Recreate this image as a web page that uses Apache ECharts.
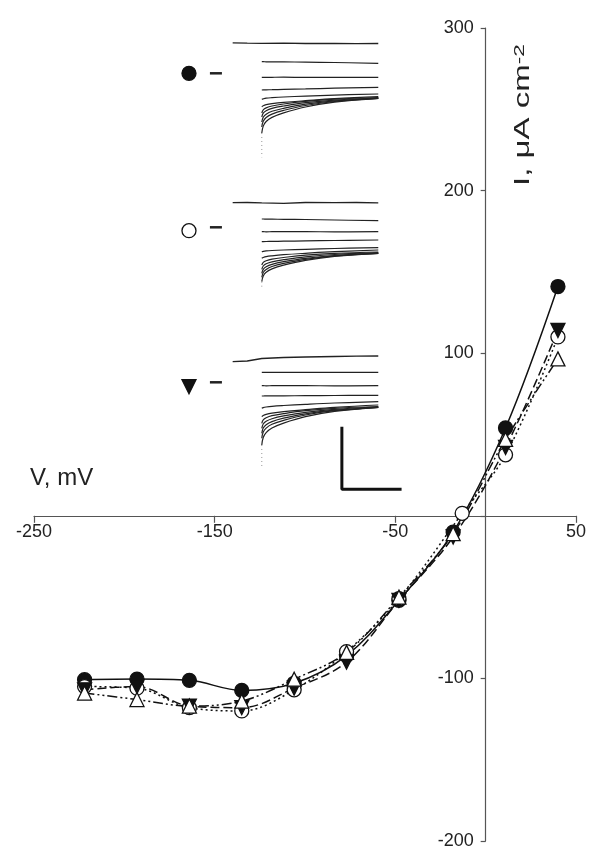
<!DOCTYPE html>
<html><head><meta charset="utf-8">
<script src="https://cdn.jsdelivr.net/npm/echarts@6/dist/echarts.min.js"></script>
<style>html,body{margin:0;padding:0;background:#fff}#c{width:600px;height:857px}</style>
</head><body><div id="c"></div>
<script>
// ---- main I-V data (V in mV, I in uA cm-2) ----
const vFilled = [-222, -193, -164, -135, -106, -77, -48, -18, 11, 40];
const iFilled = [-100.8, -100.4, -101.2, -107.4, -103, -86, -52, -10, 54, 141];
const vOpen   = [-222, -193, -164, -135, -106, -77, -48, -13, 11, 40];
const iOpen   = [-105, -106, -118, -120, -107, -83.5, -51, 1.5, 37.5, 110];
const vDown   = [-222, -193, -164, -135, -106, -77, -48, -18, 11, 40];
const iDown   = [-107, -105, -117, -118, -106, -90, -52, -13, 42, 114];
const vUp     = [-222, -193, -164, -135, -106, -77, -48, -18, 11, 40];
const iUp     = [-109, -113, -117, -114, -100.5, -84, -50, -11, 47, 96.5];

const xRange = [-250, 50];
const yRange = [-200, 300];
const tickStep = 100;

// ---- inset current traces (time in ms, current in arbitrary units) ----
const holdT  = [0, 10, 20, 35, 50, 70, 85, 100];
const traceT = [20, 21, 23, 27, 35, 50, 70, 100];

const holdA = [0.05, 0.02, 0.0, 0.02, -0.02, 0.0, -0.04, -0.02];
const stepsA = [
  [-1.84,-1.84,-1.85,-1.85,-1.86,-1.88,-1.92,-2.00],
  [-3.40,-3.40,-3.41,-3.40,-3.39,-3.41,-3.40,-3.40],
  [-4.67,-4.66,-4.65,-4.64,-4.61,-4.56,-4.49,-4.40],
  [-5.60,-5.55,-5.49,-5.44,-5.37,-5.28,-5.18,-5.07],
  [-6.34,-6.24,-6.14,-6.04,-5.91,-5.74,-5.54,-5.34],
  [-6.97,-6.66,-6.46,-6.27,-6.07,-5.81,-5.59,-5.42],
  [-7.37,-6.99,-6.74,-6.51,-6.27,-5.94,-5.68,-5.47],
  [-7.87,-7.40,-7.09,-6.80,-6.50,-6.09,-5.76,-5.50],
  [-8.37,-7.80,-7.42,-7.08,-6.71,-6.22,-5.82,-5.50],
  [-8.97,-8.28,-7.82,-7.41,-6.96,-6.37,-5.88,-5.50]
];
const holdB = [0.0, 0.02, -0.02, -0.06, 0.02, 0.0, 0.02, -0.01];
const stepsB = [
  [-1.63,-1.63,-1.64,-1.65,-1.66,-1.68,-1.73,-1.80],
  [-2.90,-2.90,-2.91,-2.90,-2.89,-2.90,-2.91,-2.90],
  [-3.90,-3.89,-3.88,-3.87,-3.85,-3.82,-3.78,-3.73],
  [-4.90,-4.86,-4.82,-4.78,-4.73,-4.66,-4.58,-4.50],
  [-5.56,-5.48,-5.39,-5.31,-5.20,-5.06,-4.90,-4.73],
  [-6.23,-5.97,-5.80,-5.64,-5.48,-5.25,-5.07,-4.93],
  [-6.66,-6.33,-6.11,-5.91,-5.70,-5.41,-5.18,-5.00],
  [-7.06,-6.66,-6.40,-6.16,-5.90,-5.56,-5.28,-5.06],
  [-7.46,-6.98,-6.67,-6.38,-6.07,-5.66,-5.32,-5.06],
  [-7.90,-7.33,-6.96,-6.62,-6.25,-5.77,-5.37,-5.06]
];
const holdC = [-0.37, -0.30, -0.05, 0.05, 0.10, 0.15, 0.18, 0.20];
const stepsC = [
  [-1.43,-1.43,-1.44,-1.43,-1.43,-1.44,-1.43,-1.43],
  [-2.77,-2.77,-2.78,-2.77,-2.76,-2.77,-2.78,-2.77],
  [-3.80,-3.80,-3.79,-3.79,-3.78,-3.77,-3.75,-3.73],
  [-5.03,-4.96,-4.90,-4.83,-4.75,-4.63,-4.50,-4.37],
  [-5.87,-5.75,-5.64,-5.52,-5.37,-5.17,-4.93,-4.70],
  [-6.53,-6.19,-5.98,-5.77,-5.56,-5.27,-5.03,-4.85],
  [-7.03,-6.60,-6.33,-6.07,-5.79,-5.43,-5.13,-4.90],
  [-7.53,-7.01,-6.67,-6.36,-6.02,-5.58,-5.22,-4.93],
  [-8.03,-7.41,-7.01,-6.63,-6.23,-5.70,-5.27,-4.93],
  [-8.70,-7.95,-7.46,-7.00,-6.51,-5.87,-5.34,-4.93]
];
const spikeEnd    = [-11.4, -8.56, -10.87];
const markerLevel = [-3.0, -2.8, -2.87];
const dashLevel   = [-3.0, -2.46, -2.43];
const markerT = -30, dashT = -11.5;
const scaleT = [75, 75, 116];
const scaleI = [-6.87, -13.13, -13.13];

const FONT = 'Liberation Sans, Arial, sans-serif';
const INK = '#111';
const zip = (xs, ys) => xs.map((x, i) => [x, ys[i]]);

const chart = echarts.init(document.getElementById('c'), null, {renderer: 'canvas'});

const G = {left: 34, top: 28, width: 542, height: 813};
// place each axis where the other axis crosses zero (derived from the axis scales)
const xAxisOffset = -((0 - yRange[0]) / (yRange[1] - yRange[0])) * G.height;
const yAxisOffset = -((0 - xRange[0]) / (xRange[1] - xRange[0])) * G.width;

const grids = [
  Object.assign({outerBoundsMode: 'none', containLabel: false}, G),
  {left: 181.7, top: 30, width: 225.7, height: 130, outerBoundsMode: 'none'},
  {left: 181.7, top: 190, width: 225.7, height: 110, outerBoundsMode: 'none'},
  {left: 181.7, top: 340, width: 225.7, height: 155, outerBoundsMode: 'none'}
];
const insetY = [[-11.67, 1.33], [-9.73, 1.27], [-13.7, 1.8]];

const xAxes = [{
  gridIndex: 0, type: 'value', position: 'bottom', offset: xAxisOffset,
  min: xRange[0], max: xRange[1], interval: tickStep,
  axisLine: {onZero: false, lineStyle: {color: '#555', width: 1.2}},
  axisTick: {length: 7, lineStyle: {color: '#555', width: 1.2}},
  axisLabel: {fontFamily: FONT, fontSize: 18, color: '#222', margin: 7},
  splitLine: {show: false}
}];
const yAxes = [{
  gridIndex: 0, type: 'value', position: 'left', offset: yAxisOffset,
  min: yRange[0], max: yRange[1], interval: tickStep,
  axisLine: {show: true, onZero: false, lineStyle: {color: '#555', width: 1.2}},
  axisTick: {show: true, length: 5, lineStyle: {color: '#555', width: 1.2}},
  axisLabel: {fontFamily: FONT, fontSize: 18, color: '#222', margin: 12,
    formatter: v => (v === 0 ? '' : String(v))},
  splitLine: {show: false}
}];
for (let k = 0; k < 3; k++) {
  xAxes.push({gridIndex: k + 1, type: 'value', min: -35, max: 120, show: false});
  yAxes.push({gridIndex: k + 1, type: 'value', min: insetY[k][0], max: insetY[k][1], show: false});
}

const series = [];
function ivSeries(name, xs, ys, symbol, rotate, fill, dash) {
  series.push({
    name, type: 'line', xAxisIndex: 0, yAxisIndex: 0,
    data: zip(xs, ys), smooth: 0.35,
    symbol, symbolSize: 14, symbolRotate: rotate, showAllSymbol: true,
    lineStyle: {color: INK, width: 1.5, type: dash},
    itemStyle: {color: fill, borderColor: INK, borderWidth: 1.3, opacity: 1}
  });
}
ivSeries('filled', vFilled, iFilled, 'circle', 0, INK, 'solid');
ivSeries('open', vOpen, iOpen, 'circle', 0, '#fff', [2, 3]);
ivSeries('down', vDown, iDown, 'triangle', 180, INK, [9, 4]);
ivSeries('up', vUp, iUp, 'triangle', 0, '#fff', [10, 3, 2, 3, 2, 3]);

const holds = [holdA, holdB, holdC];
const steps = [stepsA, stepsB, stepsC];
const markSymbols = [['circle', INK, 0], ['circle', '#fff', 0], ['triangle', INK, 180]];
for (let k = 0; k < 3; k++) {
  const gi = k + 1;
  const base = {type: 'line', xAxisIndex: gi, yAxisIndex: gi, symbol: 'none', silent: true};
  series.push(Object.assign({}, base, {data: zip(holdT, holds[k]),
    lineStyle: {color: '#222', width: 1.3}}));
  steps[k].forEach(tr => {
    series.push(Object.assign({}, base, {data: zip(traceT, tr), smooth: 0.4,
      lineStyle: {color: '#222', width: 1.2}}));
  });
  series.push(Object.assign({}, base, {data: [[20, steps[k][9][0]], [20, spikeEnd[k]]],
    lineStyle: {color: '#999', width: 1, type: [1, 3]}}));
  series.push({type: 'scatter', xAxisIndex: gi, yAxisIndex: gi, silent: true,
    data: [[markerT, markerLevel[k]]], symbol: markSymbols[k][0], symbolSize: 14,
    symbolRotate: markSymbols[k][2],
    itemStyle: {color: markSymbols[k][1], borderColor: INK, borderWidth: 1.3, opacity: 1}});
  series.push({type: 'scatter', xAxisIndex: gi, yAxisIndex: gi, silent: true,
    data: [[dashT, dashLevel[k]]], symbol: 'rect', symbolSize: [12, 2.5],
    itemStyle: {color: '#222', opacity: 1}});
}
series.push({type: 'line', xAxisIndex: 3, yAxisIndex: 3, symbol: 'none', silent: true,
  data: zip(scaleT, scaleI), lineStyle: {color: INK, width: 3}});

chart.setOption({
  animation: false,
  backgroundColor: '#fff',
  grid: grids,
  xAxis: xAxes,
  yAxis: yAxes,
  series,
  graphic: [
    {type: 'text', left: 30, top: 466,
      style: {text: 'V, mV', fontFamily: FONT, fontSize: 24, fill: '#222'}},
    {type: 'text', x: 523, y: 186, rotation: Math.PI / 2, scaleX: 1.5,
      style: {text: '{a|I, \u03bcA cm}{b|-2}', fontFamily: FONT, align: 'left', verticalAlign: 'middle',
        rich: {a: {fontFamily: FONT, fontSize: 22, fill: '#222', color: '#222'},
               b: {fontFamily: FONT, fontSize: 15, fill: '#222', color: '#222', verticalAlign: 'top'}}}}
  ]
});
</script></body></html>
